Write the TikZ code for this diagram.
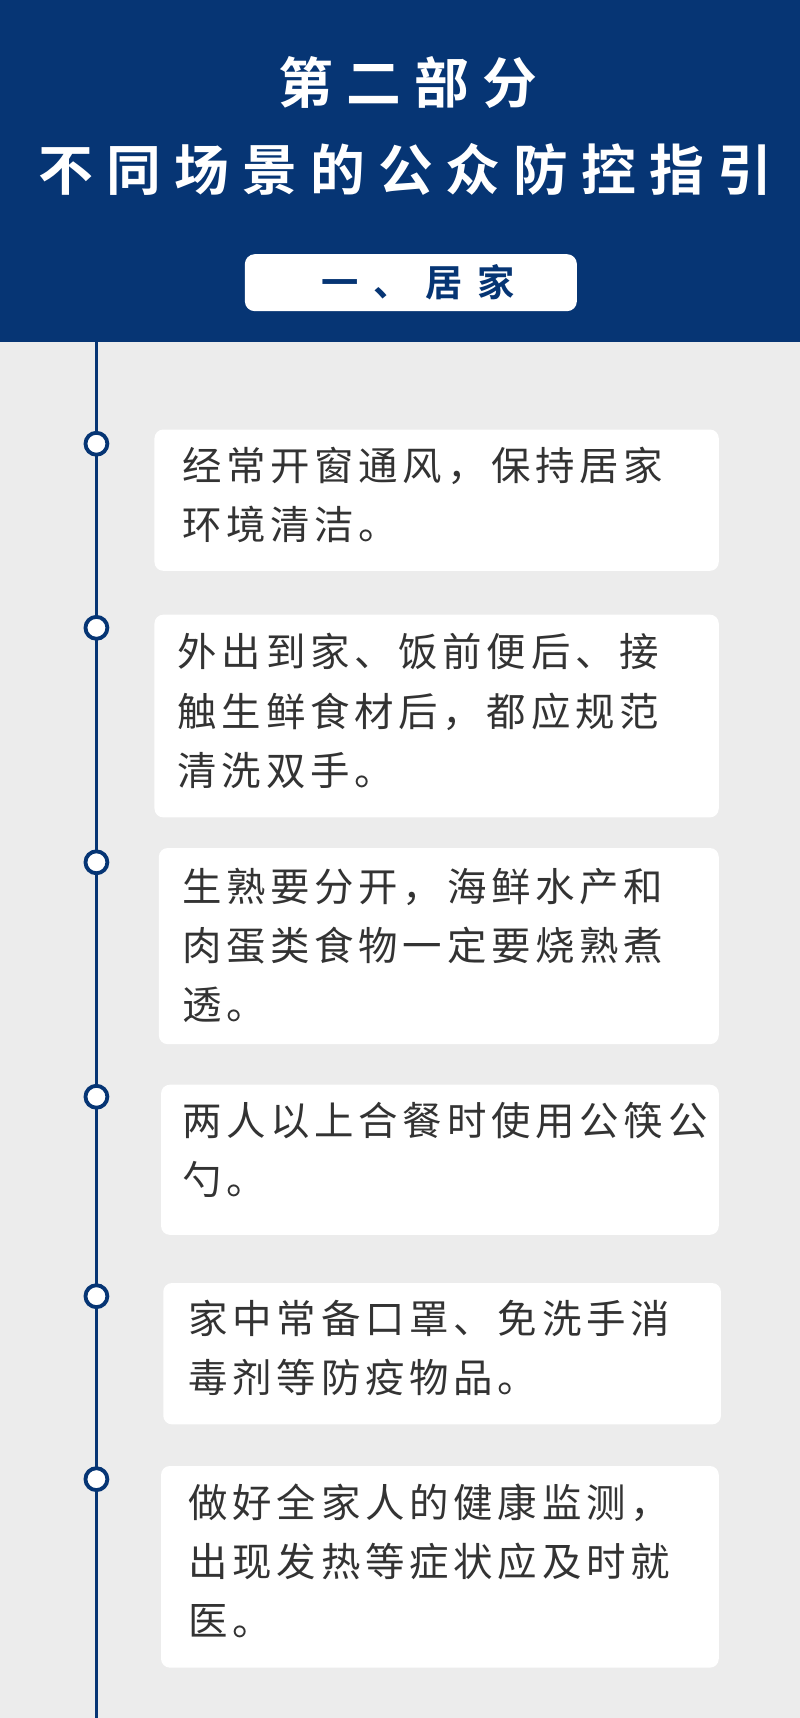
\documentclass[tikz,border=0pt]{standalone}
\usepackage{fontspec}
\newfontfamily\cjk[LetterSpace=12]{Noto Sans CJK SC}
\newfontfamily\cjkb[LetterSpace=24]{Noto Sans CJK SC Bold}
\newfontfamily\cjkt[LetterSpace=40]{Noto Sans CJK SC Bold}
\usetikzlibrary{positioning}
\definecolor{navy}{HTML}{063574}
\definecolor{bgray}{HTML}{ECECEC}
\definecolor{tgray}{HTML}{333333}
\begin{document}
\begin{tikzpicture}[
    x = 1pt,
    y = -1pt,
    tiptext/.style = {
      anchor=north west,
      text=tgray,
      font=\cjk\fontsize{36}{54}\selectfont,
      align=left,
      inner sep=0pt
    },
    dot/.style = {
      circle,
      draw=navy,
      line width=3.5pt,
      fill=white,
      minimum size=20pt,
      inner sep=0pt
    }
  ]
    \useasboundingbox (0,0) rectangle (730,1568);
    \fill[bgray] (0,0) rectangle (730,1568);
    \fill[navy] (0,0) rectangle (730,312);
    \node[text=white, font=\cjkb\fontsize{50}{50}\selectfont] (title) at (372,75) {第二部分};
    \node[text=white, font=\cjkb\fontsize{50}{50}\selectfont] (subtitle) at (370,155) {不同场景的公众防控指引};
    \node[fill=white, rounded corners=9pt, minimum width=303pt, minimum height=52pt,
      text=navy, font=\cjkt\fontsize{34}{34}\selectfont] (tag) at (375,258) {\hspace*{13pt}一、居家};

    % timeline
    \coordinate (ltop) at (88,312);
    \coordinate (lbot) at (88,1568);
    \draw[navy, line width=3pt] (ltop) -- (lbot);

    % boxes
    \fill[white, rounded corners=8pt] (141,392) rectangle (656,521);
    \fill[white, rounded corners=8pt] (141,561) rectangle (656,746);
    \fill[white, rounded corners=8pt] (145,774) rectangle (656,953);
    \fill[white, rounded corners=8pt] (147,990) rectangle (656,1127);
    \fill[white, rounded corners=8pt] (149,1171) rectangle (658,1300);
    \fill[white, rounded corners=8pt] (147,1338) rectangle (656,1522);

    \node[tiptext] (t1) at (166,408) {经常开窗通风，保持居家\\环境清洁。};
    \node[tiptext] (t2) at (162,578) {外出到家、饭前便后、接\\触生鲜食材后，都应规范\\清洗双手。};
    \node[tiptext] (t3) at (166,792) {生熟要分开，海鲜水产和\\肉蛋类食物一定要烧熟煮\\透。};
    \node[tiptext] (t4) at (166,1006) {两人以上合餐时使用公筷公\\勺。};
    \node[tiptext] (t5) at (172,1186) {家中常备口罩、免洗手消\\毒剂等防疫物品。};
    \node[tiptext] (t6) at (172,1354) {做好全家人的健康监测，\\出现发热等症状应及时就\\医。};

    % dots
    \foreach \y [count=\i] in {405,573,787,1001,1183,1350}
      \node[dot] (d\i) at (88,\y) {};
  \end{tikzpicture}
\end{document}
